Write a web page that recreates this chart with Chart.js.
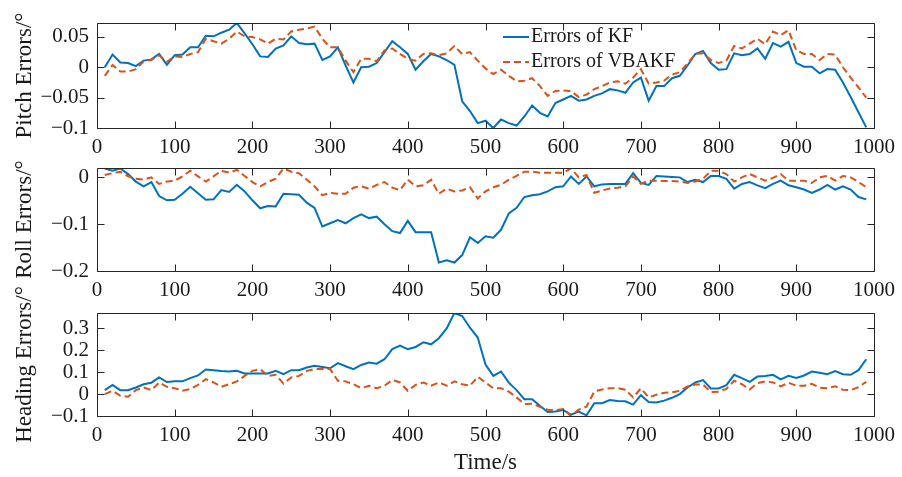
<!DOCTYPE html>
<html>
<head>
<meta charset="utf-8">
<script src="https://cdn.jsdelivr.net/npm/chart.js@4.4.1/dist/chart.umd.min.js"></script>
<style>
  html, body { margin: 0; padding: 0; background: #fff; }
  #wrap { position: relative; width: 902px; height: 477px; }
  #wrap canvas { position: absolute; left: 0; top: 0; }
</style>
</head>
<body>
<div id="wrap">
  <canvas id="graficaPitch" width="902" height="477"></canvas>
  <canvas id="graficaRoll" width="902" height="477"></canvas>
  <canvas id="graficaHeading" width="902" height="477"></canvas>
</div>
<script>
// Datos (un punto cada 10 s)
const tiempos = [10, 20, 30, 40, 50, 60, 70, 80, 90, 100, 110, 120, 130, 140, 150, 160, 170, 180, 190, 200,
  210, 220, 230, 240, 250, 260, 270, 280, 290, 300, 310, 320, 330, 340, 350, 360, 370, 380, 390, 400,
  410, 420, 430, 440, 450, 460, 470, 480, 490, 500, 510, 520, 530, 540, 550, 560, 570, 580, 590, 600,
  610, 620, 630, 640, 650, 660, 670, 680, 690, 700, 710, 720, 730, 740, 750, 760, 770, 780, 790, 800,
  810, 820, 830, 840, 850, 860, 870, 880, 890, 900, 910, 920, 930, 940, 950, 960, 970, 980, 990];
const ticksTiempo = [0, 100, 200, 300, 400, 500, 600, 700, 800, 900, 1000];

const pitchKF = [0, 0.021, 0.008, 0.007, 0.002, 0.011, 0.013, 0.022, 0.004, 0.02,
  0.021, 0.033, 0.033, 0.052, 0.051, 0.057, 0.062, 0.073, 0.056, 0.038,
  0.018, 0.017, 0.031, 0.036, 0.051, 0.04, 0.038, 0.039, 0.012, 0.018,
  0.033, 0.003, -0.025, 0, 0.001, 0.007, 0.025, 0.043, 0.033, 0.022,
  -0.004, 0.01, 0.022, 0.018, 0.012, 0.004, -0.056, -0.072, -0.092, -0.088,
  -0.1, -0.086, -0.092, -0.096, -0.081, -0.063, -0.075, -0.081, -0.059, -0.053,
  -0.047, -0.055, -0.053, -0.047, -0.043, -0.036, -0.038, -0.042, -0.025, -0.017,
  -0.055, -0.031, -0.031, -0.018, -0.014, 0.003, 0.022, 0.027, 0.007, -0.004,
  -0.003, 0.023, 0.02, 0.022, 0.031, 0.014, 0.04, 0.034, 0.042, 0.007,
  0.001, 0.001, -0.01, -0.003, -0.004, -0.025, -0.049, -0.074, -0.099];
const pitchVBAKF = [-0.014, 0.004, -0.007, -0.007, -0.003, 0.01, 0.012, 0.02, 0.009, 0.018,
  0.017, 0.022, 0.025, 0.047, 0.043, 0.039, 0.047, 0.059, 0.051, 0.05,
  0.046, 0.039, 0.047, 0.046, 0.059, 0.062, 0.064, 0.067, 0.047, 0.033,
  0.033, 0.011, -0.008, 0.014, 0.014, 0.01, 0.028, 0.031, 0.022, 0.014,
  0.011, 0.022, 0.023, 0.02, 0.023, 0.035, 0.022, 0.025, 0.011, -0.002,
  -0.011, -0.004, -0.014, -0.023, -0.022, -0.018, -0.031, -0.047, -0.039, -0.038,
  -0.039, -0.049, -0.045, -0.036, -0.031, -0.025, -0.023, -0.027, -0.017, -0.003,
  -0.027, -0.025, -0.022, -0.012, -0.008, 0.006, 0.022, 0.023, 0.012, 0.007,
  0.011, 0.035, 0.031, 0.039, 0.047, 0.038, 0.059, 0.053, 0.061, 0.028,
  0.022, 0.022, 0.012, 0.022, 0.021, 0, -0.017, -0.033, -0.05];

const rollKF = [0.019, 0.014, 0.019, 0.007, -0.009, -0.019, -0.01, -0.04, -0.049, -0.048,
  -0.035, -0.02, -0.034, -0.048, -0.047, -0.027, -0.031, -0.016, -0.03, -0.049,
  -0.066, -0.061, -0.062, -0.035, -0.036, -0.037, -0.054, -0.065, -0.105, -0.098,
  -0.091, -0.098, -0.087, -0.079, -0.087, -0.084, -0.1, -0.115, -0.119, -0.093,
  -0.117, -0.117, -0.117, -0.182, -0.177, -0.182, -0.166, -0.128, -0.14, -0.126,
  -0.129, -0.112, -0.077, -0.065, -0.042, -0.038, -0.036, -0.03, -0.021, -0.019,
  0.002, -0.014, 0.002, -0.019, -0.015, -0.014, -0.014, -0.014, 0.009, -0.012,
  -0.016, 0.003, 0.002, 0.001, 0, -0.01, -0.005, -0.01, 0.003, 0.003,
  -0.003, -0.024, -0.014, -0.01, -0.017, -0.023, -0.014, -0.007, -0.017, -0.021,
  -0.026, -0.033, -0.026, -0.016, -0.026, -0.019, -0.026, -0.042, -0.047];
const rollVBAKF = [0.005, 0.009, 0.012, 0.002, -0.003, -0.005, 0, -0.014, -0.009, -0.007,
  0.002, 0.014, 0.002, -0.009, 0.002, 0.014, 0.01, 0.016, 0.003, -0.01,
  -0.019, -0.01, -0.003, 0.019, 0.012, 0.009, -0.005, -0.019, -0.038, -0.033,
  -0.035, -0.035, -0.022, -0.019, -0.024, -0.016, -0.01, -0.022, -0.027, -0.005,
  -0.019, -0.017, -0.005, -0.035, -0.024, -0.03, -0.028, -0.021, -0.045, -0.03,
  -0.021, -0.016, -0.005, 0.003, 0.012, 0.012, 0.01, 0.01, 0.01, 0.01,
  0.019, 0, 0.005, -0.033, -0.028, -0.024, -0.022, -0.019, 0.002, -0.014,
  -0.007, -0.007, -0.008, -0.008, -0.009, -0.012, -0.009, -0.003, 0.014, 0.014,
  0.007, -0.009, 0, 0.007, 0, -0.007, -0.001, 0.007, -0.007, -0.007,
  -0.007, -0.012, 0, 0.003, -0.007, 0.003, 0, -0.01, -0.021];

const headingKF = [0.018, 0.042, 0.018, 0.018, 0.03, 0.045, 0.052, 0.076, 0.055, 0.058,
  0.058, 0.073, 0.085, 0.112, 0.109, 0.105, 0.103, 0.106, 0.094, 0.094,
  0.094, 0.094, 0.106, 0.091, 0.109, 0.109, 0.121, 0.129, 0.124, 0.118,
  0.141, 0.127, 0.114, 0.133, 0.144, 0.139, 0.159, 0.205, 0.221, 0.205,
  0.215, 0.236, 0.227, 0.255, 0.3, 0.37, 0.356, 0.303, 0.258, 0.135,
  0.083, 0.103, 0.052, 0.018, -0.023, -0.023, -0.053, -0.082, -0.079, -0.073,
  -0.094, -0.08, -0.097, -0.042, -0.042, -0.027, -0.032, -0.033, -0.048, -0.005,
  -0.036, -0.038, -0.03, -0.017, 0, 0.03, 0.053, 0.064, 0.026, 0.026,
  0.041, 0.088, 0.073, 0.056, 0.08, 0.083, 0.088, 0.067, 0.083, 0.074,
  0.085, 0.103, 0.097, 0.091, 0.105, 0.091, 0.088, 0.109, 0.159];
const headingVBAKF = [0, 0.015, -0.008, -0.012, 0.018, 0.03, 0.018, 0.053, 0.033, 0.027,
  0.015, 0.023, 0.042, 0.068, 0.053, 0.033, 0.045, 0.058, 0.083, 0.106,
  0.114, 0.083, 0.088, 0.048, 0.076, 0.083, 0.106, 0.114, 0.114, 0.114,
  0.061, 0.058, 0.045, 0.027, 0.038, 0.027, 0.038, 0.064, 0.053, 0.015,
  0.042, 0.053, 0.038, 0.053, 0.038, 0.058, 0.045, 0.038, 0.079, 0.053,
  0.027, 0.027, 0.011, -0.015, -0.045, -0.044, -0.058, -0.071, -0.073, -0.068,
  -0.1, -0.071, -0.058, 0.012, 0.021, 0.027, 0.027, 0.02, -0.015, 0.026,
  -0.015, -0.003, 0.006, 0.008, 0.015, 0.035, 0.044, 0.044, 0.009, 0.011,
  0.024, 0.061, 0.045, 0.021, 0.05, 0.058, 0.053, 0.035, 0.052, 0.038,
  0.038, 0.047, 0.029, 0.027, 0.036, 0.02, 0.018, 0.032, 0.056];

const ticksPitch = [-0.1, -0.05, 0, 0.05];
const ticksRoll = [-0.2, -0.1, 0];
const ticksHeading = [-0.1, 0, 0.1, 0.2, 0.3];

const fuente = '"Liberation Serif", "Times New Roman", serif';
const colorTexto = '#1a1a1a';
const colorKF = '#0072BD';
const colorVBAKF = '#D95319';

Chart.defaults.font.family = fuente;
Chart.defaults.color = colorTexto;

// Marco tipo MATLAB: caja, marcas hacia dentro y titulo del eje y
const marcoMatlab = {
  id: 'marcoMatlab',
  afterDatasetsDraw(chart, args, opts) {
    const { ctx, chartArea: a } = chart;
    const xs = chart.scales.x, ys = chart.scales.y;
    const L = Math.round(a.left) + 0.5, R = Math.round(a.right) + 0.5;
    const T = Math.round(a.top) + 0.5, B = Math.round(a.bottom) + 0.5;
    ctx.save();
    ctx.strokeStyle = '#262626';
    ctx.lineWidth = 1;
    ctx.beginPath();
    ctx.rect(L, T, R - L, B - T);
    xs.ticks.forEach(t => {
      const px = Math.round(xs.getPixelForValue(t.value)) + 0.5;
      ctx.moveTo(px, B); ctx.lineTo(px, B - 7);
      ctx.moveTo(px, T); ctx.lineTo(px, T + 7);
    });
    ys.ticks.forEach(t => {
      const py = Math.round(ys.getPixelForValue(t.value)) + 0.5;
      ctx.moveTo(L, py); ctx.lineTo(L + 7, py);
      ctx.moveTo(R, py); ctx.lineTo(R - 7, py);
    });
    ctx.stroke();

    ctx.translate(opts.tituloX, (a.top + a.bottom) / 2);
    ctx.rotate(-Math.PI / 2);
    ctx.font = '23px ' + fuente;
    ctx.fillStyle = colorTexto;
    ctx.textAlign = 'center';
    ctx.textBaseline = 'middle';
    ctx.fillText(opts.tituloY, 0, 0);
    ctx.restore();
  }
};

// Leyenda dentro del primer panel, sin caja
const leyenda = {
  id: 'leyenda',
  afterDraw(chart, args, opts) {
    if (!opts.mostrar) return;
    const { ctx, chartArea: a } = chart;
    const nombres = ['Errors of KF', 'Errors of VBAKF'];
    [0, 1].forEach(i => {
      const ds = chart.data.datasets[i];
      const x = a.left + 406;
      const y = a.top + 14 + i * 25;
      ctx.save();
      ctx.strokeStyle = ds.borderColor;
      ctx.lineWidth = 2;
      ctx.setLineDash(ds.borderDash || []);
      ctx.beginPath();
      ctx.moveTo(x, y);
      ctx.lineTo(x + 26, y);
      ctx.stroke();
      ctx.setLineDash([]);
      ctx.font = '20px ' + fuente;
      ctx.fillStyle = colorTexto;
      ctx.textAlign = 'left';
      ctx.textBaseline = 'middle';
      ctx.fillText(nombres[i], x + 28, y);
      ctx.restore();
    });
  }
};

const formatoY = v => (v < 0 ? '\u2212' : '') + String(Math.abs(Math.round(v * 1000) / 1000));
const puntos = serie => serie.map((v, i) => ({ x: tiempos[i], y: v }));

function crearPanel(id, cfg) {
  const ctx = document.getElementById(id).getContext('2d');
  return new Chart(ctx, {
    type: 'line',
    data: {
      datasets: [{
        label: 'Errors of KF',
        data: puntos(cfg.kf),
        borderColor: colorKF,
        borderWidth: 2,
        pointRadius: 0,
        tension: 0,
        order: 1
      }, {
        label: 'Errors of VBAKF',
        data: puntos(cfg.vbakf),
        borderColor: colorVBAKF,
        borderWidth: 2,
        borderDash: [7, 4],
        pointRadius: 0,
        tension: 0,
        order: 0
      }]
    },
    options: {
      responsive: false,
      animation: false,
      layout: { padding: { top: cfg.arriba, bottom: cfg.abajo, left: 0, right: 28 } },
      plugins: {
        legend: { display: false },
        tooltip: { enabled: false },
        marcoMatlab: { tituloY: cfg.tituloY, tituloX: 25 },
        leyenda: { mostrar: !!cfg.leyenda }
      },
      scales: {
        x: {
          type: 'linear',
          min: 0,
          max: 1000,
          grid: { display: false, drawTicks: false },
          border: { display: false },
          afterBuildTicks: s => { s.ticks = ticksTiempo.map(v => ({ value: v })); },
          afterFit: s => { s.height = cfg.altoX; },
          ticks: {
            padding: 7,
            maxRotation: 0,
            autoSkip: false,
            font: { size: 21 },
            callback: v => String(v)
          },
          title: {
            display: !!cfg.tituloX,
            text: cfg.tituloX || '',
            font: { size: 23 },
            padding: { top: 0, bottom: 0 }
          }
        },
        y: {
          min: cfg.min,
          max: cfg.max,
          grid: { display: false, drawTicks: false },
          border: { display: false },
          afterBuildTicks: s => { s.ticks = cfg.ticks.map(v => ({ value: v })); },
          afterFit: s => { s.width = 97; },
          ticks: {
            padding: 8,
            autoSkip: false,
            font: { size: 21 },
            callback: v => formatoY(v)
          }
        }
      }
    },
    plugins: [marcoMatlab, leyenda]
  });
}

// Panel de Pitch
crearPanel('graficaPitch', {
  kf: pitchKF, vbakf: pitchVBAKF, ticks: ticksPitch,
  min: -0.1, max: 0.073, tituloY: 'Pitch Errors/\u00b0',
  arriba: 23, abajo: 477 - 128 - 40, altoX: 40, leyenda: true
});

// Panel de Roll
crearPanel('graficaRoll', {
  kf: rollKF, vbakf: rollVBAKF, ticks: ticksRoll,
  min: -0.2, max: 0.02, tituloY: 'Roll Errors/\u00b0',
  arriba: 168, abajo: 477 - 271 - 40, altoX: 40
});

// Panel de Heading
crearPanel('graficaHeading', {
  kf: headingKF, vbakf: headingVBAKF, ticks: ticksHeading,
  min: -0.1, max: 0.37, tituloY: 'Heading Errors/\u00b0',
  arriba: 313, abajo: 0, altoX: 61, tituloX: 'Time/s'
});
</script>
</body>
</html>
